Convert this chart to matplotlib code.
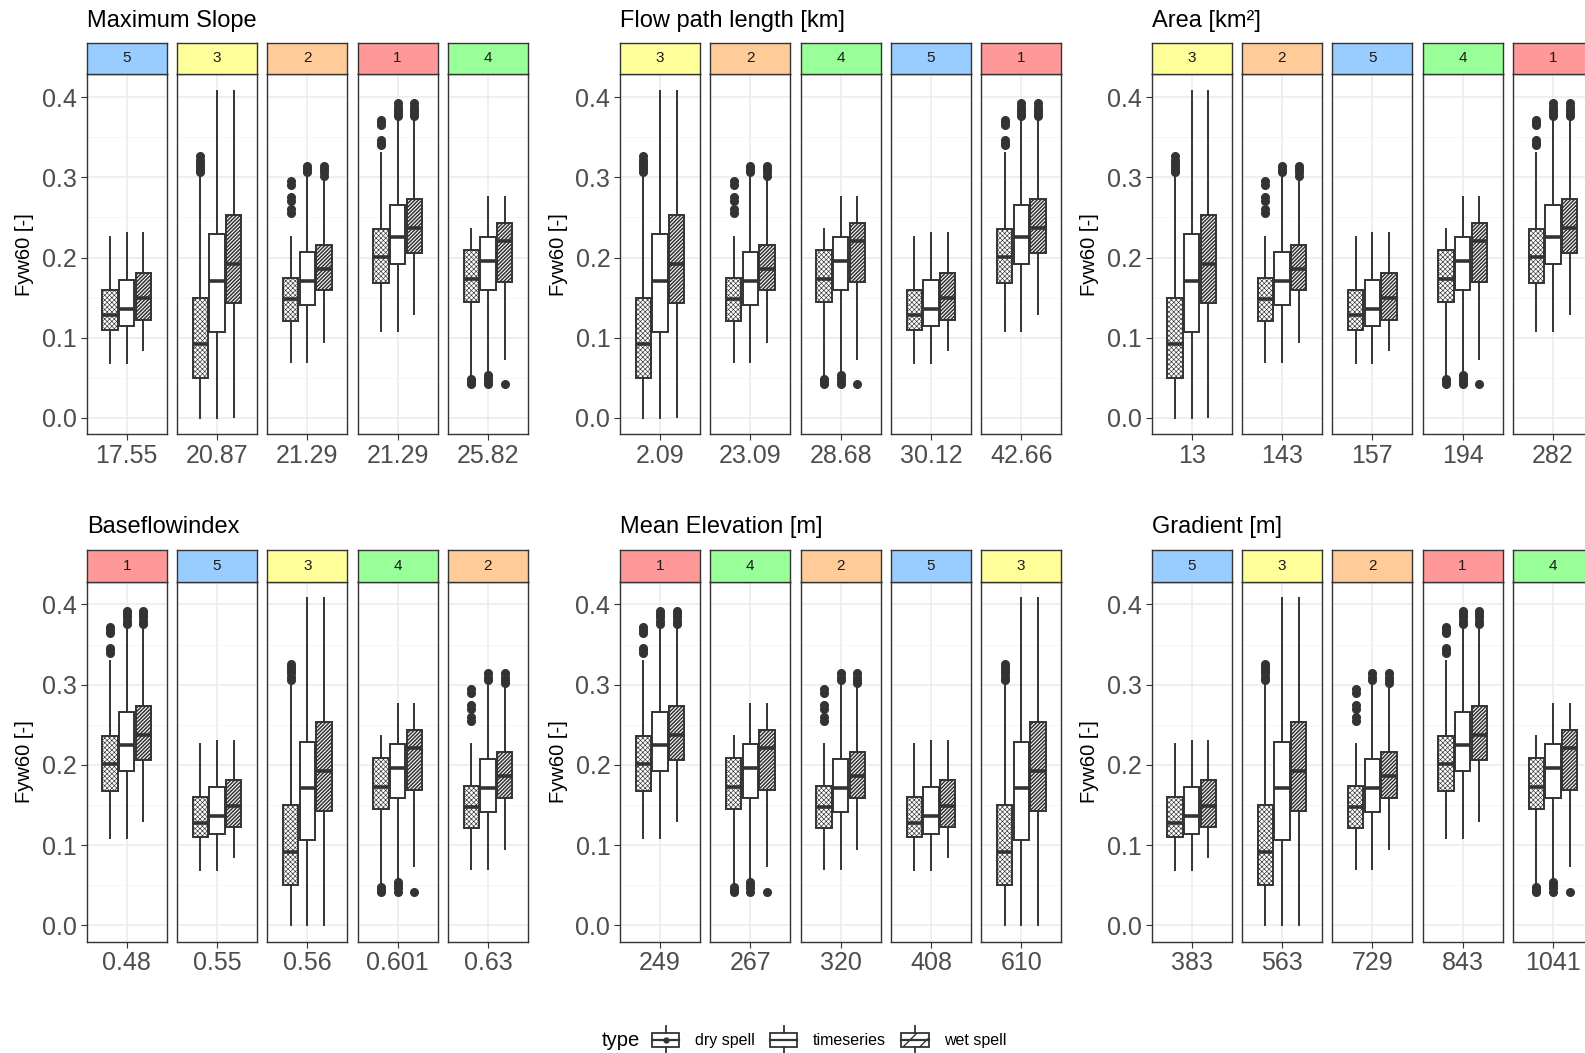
import numpy as np
import matplotlib.pyplot as plt
from matplotlib.legend_handler import HandlerBase
from matplotlib.patches import Rectangle, Patch
from matplotlib.lines import Line2D

plt.rcParams['font.family'] = ['Liberation Sans', 'DejaVu Sans']

# box statistics per cluster (index 0 -> cluster 1 ... index 4 -> cluster 5)
dry_low = [0.109, 0.070, 0.000, 0.050, 0.069]
dry_q1 = [0.168, 0.121, 0.050, 0.145, 0.110]
dry_med = [0.201, 0.148, 0.092, 0.173, 0.128]
dry_q3 = [0.236, 0.174, 0.150, 0.209, 0.160]
dry_high = [0.330, 0.226, 0.303, 0.236, 0.226]
dry_out = [[0.340, 0.343, 0.346, 0.365, 0.368, 0.372],
           [0.255, 0.260, 0.270, 0.275, 0.290, 0.295],
           [0.306, 0.310, 0.314, 0.318, 0.322, 0.326],
           [0.042, 0.045, 0.048],
           []]

ts_low = [0.109, 0.070, 0.000, 0.058, 0.069]
ts_q1 = [0.192, 0.141, 0.107, 0.159, 0.114]
ts_med = [0.225, 0.171, 0.171, 0.196, 0.136]
ts_q3 = [0.266, 0.207, 0.229, 0.226, 0.172]
ts_high = [0.372, 0.303, 0.408, 0.276, 0.230]
ts_out = [[0.376, 0.380, 0.384, 0.388, 0.392],
          [0.306, 0.310, 0.314],
          [],
          [0.042, 0.046, 0.050, 0.054],
          []]

wet_low = [0.130, 0.095, 0.001, 0.074, 0.085]
wet_q1 = [0.206, 0.159, 0.143, 0.169, 0.122]
wet_med = [0.237, 0.186, 0.192, 0.221, 0.149]
wet_q3 = [0.273, 0.216, 0.253, 0.243, 0.181]
wet_high = [0.372, 0.299, 0.408, 0.276, 0.230]
wet_out = [[0.376, 0.380, 0.384, 0.388, 0.392],
           [0.302, 0.306, 0.310, 0.314],
           [],
           [0.042],
           []]

# panels
titles = ["Maximum Slope", "Flow path length [km]", "Area [km\u00b2]",
          "Baseflowindex", "Mean Elevation [m]", "Gradient [m]"]
orders = [[5, 3, 2, 1, 4], [3, 2, 4, 5, 1], [3, 2, 5, 4, 1],
          [1, 5, 3, 4, 2], [1, 4, 2, 5, 3], [5, 3, 2, 1, 4]]
xlabels = [["17.55", "20.87", "21.29", "21.29", "25.82"],
           ["2.09", "23.09", "28.68", "30.12", "42.66"],
           ["13", "143", "157", "194", "282"],
           ["0.48", "0.55", "0.56", "0.601", "0.63"],
           ["249", "267", "320", "408", "610"],
           ["383", "563", "729", "843", "1041"]]
strip_colors = {1: "#FF9999", 2: "#FFCC99", 3: "#FFFF99", 4: "#99FF99", 5: "#99CCFF"}
types = ["dry spell", "timeseries", "wet spell"]
hatches = ["xxxxxxx", None, "/////////"]
hatch_lw = [0.45, 0.5, 1.1]

W, H = 1585, 1053
fig = plt.figure(figsize=(W / 100, H / 100), dpi=100)


def px(x, y, w, h):
    return [x / W, 1 - (y + h) / H, w / W, h / H]


panel_x = [86.7, 620, 1151.7]
rows = [(42.7, 74.3, 434.3, 20.5), (550, 581.7, 941.7, 527)]
pitch, fw = 90.3, 80
ec = "#333333"


def stat(i, kind):
    if kind == 0:
        return dict(whislo=dry_low[i], q1=dry_q1[i], med=dry_med[i], q3=dry_q3[i], whishi=dry_high[i], fliers=dry_out[i])
    if kind == 1:
        return dict(whislo=ts_low[i], q1=ts_q1[i], med=ts_med[i], q3=ts_q3[i], whishi=ts_high[i], fliers=ts_out[i])
    return dict(whislo=wet_low[i], q1=wet_q1[i], med=wet_med[i], q3=wet_q3[i], whishi=wet_high[i], fliers=wet_out[i])


for p in range(6):
    r, c = p // 3, p % 3
    s_top, p_top, p_bot, t_y = rows[r]
    fig.text(panel_x[c] / W, 1 - t_y / H, titles[p], fontsize=17, ha="left", va="center")
    fig.text((panel_x[c] - 62) / W, 1 - ((p_top + p_bot) / 2) / H, "Fyw60 [-]",
             fontsize=14.5, rotation=90, ha="center", va="center")
    for k, cl in enumerate(orders[p]):
        x0 = panel_x[c] + k * pitch
        ax = fig.add_axes(px(x0, p_top, fw, p_bot - p_top))
        for j in range(3):
            plt.rcParams['hatch.linewidth'] = hatch_lw[j]
            ax.bxp([stat(cl - 1, j)], positions=[0.75 + 0.25 * j], widths=0.23,
                   patch_artist=True, showcaps=False,
                   boxprops=dict(facecolor="white", edgecolor=ec, hatch=hatches[j], linewidth=1.4),
                   whiskerprops=dict(color=ec, linewidth=1.4),
                   medianprops=dict(color=ec, linewidth=2.6),
                   flierprops=dict(marker="o", markerfacecolor=ec, markeredgecolor=ec, markersize=5.5))
        ax.set_xlim(0.4, 1.6)
        ax.set_ylim(-0.0204, 0.4284)
        ax.set_xticks([1])
        ax.set_xticklabels([xlabels[p][k]])
        ax.set_yticks([0, 0.1, 0.2, 0.3, 0.4])
        ax.set_yticklabels(["0.0", "0.1", "0.2", "0.3", "0.4"])
        ax.set_yticks([0.05, 0.15, 0.25, 0.35], minor=True)
        ax.grid(which="major", color="#EBEBEB", linewidth=1.1)
        ax.grid(which="minor", axis="y", color="#F4F4F4", linewidth=0.6)
        ax.set_axisbelow(True)
        ax.tick_params(which="major", labelsize=18, labelcolor="#4D4D4D", color=ec, length=4, pad=3)
        ax.tick_params(which="minor", length=0)
        if k > 0:
            ax.tick_params(axis="y", labelleft=False, left=False)
        for sp in ax.spines.values():
            sp.set_color(ec)
            sp.set_linewidth(1.0)
        sax = fig.add_axes(px(x0, s_top, fw, p_top - s_top))
        sax.set_facecolor(strip_colors[cl])
        sax.set_xticks([])
        sax.set_yticks([])
        for sp in sax.spines.values():
            sp.set_color(ec)
            sp.set_linewidth(1.0)
        sax.text(0.5, 0.5, str(cl), transform=sax.transAxes, ha="center", va="center",
                 fontsize=11, color="#1A1A1A")


class BoxKey(HandlerBase):
    def __init__(self, hatch=None, dot=False):
        super().__init__()
        self.hatch = hatch
        self.dot = dot

    def create_artists(self, legend, orig_handle, xdescent, ydescent, width, height, fontsize, trans):
        x0, y0 = -xdescent, -ydescent
        cx = x0 + width / 2
        rect = Rectangle((x0, y0 + 0.2 * height), width, 0.6 * height, facecolor="white",
                         edgecolor=ec, hatch=self.hatch, linewidth=1.3, transform=trans)
        wl = Line2D([cx, cx], [y0 - 0.1 * height, y0 + 0.2 * height], color=ec, lw=1.3, transform=trans)
        wh = Line2D([cx, cx], [y0 + 0.8 * height, y0 + 1.1 * height], color=ec, lw=1.3, transform=trans)
        md = Line2D([x0, x0 + width], [y0 + 0.5 * height] * 2, color=ec, lw=1.6, transform=trans)
        arts = [rect, wl, wh, md]
        if self.dot:
            arts.append(Line2D([cx], [y0 + 0.5 * height], marker="o", markersize=3.5, color=ec, transform=trans))
        return arts


plt.rcParams['hatch.linewidth'] = 1.0
handles = [Patch(label=t) for t in types]
hmap = {handles[0]: BoxKey(dot=True), handles[1]: BoxKey(), handles[2]: BoxKey(hatch="//")}
fig.text(602 / W, 1 - 1040 / H, "type", fontsize=14.5, ha="left", va="center")
fig.legend(handles=handles, labels=types, handler_map=hmap, loc="center left",
           bbox_to_anchor=(652 / W, 1 - 1040 / H), ncol=3, frameon=False, fontsize=11.5,
           handlelength=1.7, handleheight=1.8, handletextpad=1.0, columnspacing=0.95,
           borderpad=0, borderaxespad=0)

fig.savefig("out.png", dpi=100)
